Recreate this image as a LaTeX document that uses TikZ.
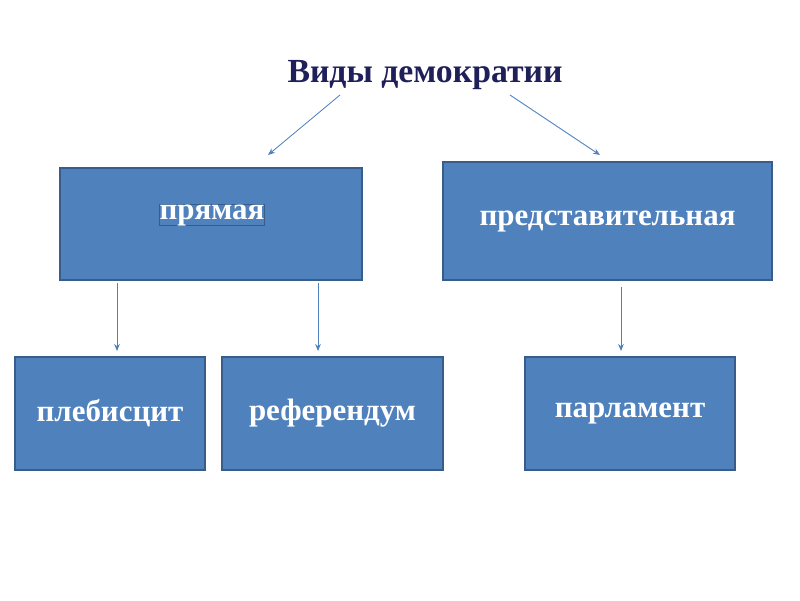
\documentclass[tikz,border=0pt]{standalone}
\usepackage{fontspec}
\setmainfont{Liberation Serif}
\usetikzlibrary{positioning, arrows.meta}
\definecolor{boxfill}{HTML}{4F81BD}
\definecolor{boxline}{HTML}{385D8A}
\definecolor{titlecol}{HTML}{1F1F5A}
\tikzset{
  kind/.style={draw=boxline, line width=1.2pt, fill=boxfill, text=white,
    font=\fontsize{22}{24}\selectfont\bfseries, inner sep=0pt},
  link/.style={draw=boxfill, line width=0.6pt, -{Stealth[length=5pt,width=4pt]}}
}
\begin{document}
\begin{tikzpicture}[x=0.025cm,y=-0.025cm]
\useasboundingbox (0,0) rectangle (800,600);
% title
\node[font=\fontsize{24}{26}\selectfont\bfseries, text=titlecol] (T) at (425,75) {Виды демократии};
% upper level
\node[kind, minimum width=302*0.025cm, minimum height=112*0.025cm] (P) at (211,224) {};
\node[kind, text=white] (Ptxt) at (212,215) {прямая};
\node[kind, minimum width=329*0.025cm, minimum height=118*0.025cm] (R) at (607.5,221) {представительная};
% lower level
\node[kind, minimum width=190*0.025cm, minimum height=113*0.025cm] (PL) at (110,413.5) {плебисцит};
\node[kind, minimum width=221*0.025cm, minimum height=113*0.025cm] (RF) at (332.5,413.5) {референдум};
\node[kind, minimum width=210*0.025cm, minimum height=113*0.025cm] (PA) at (630,413.5) {парламент};
% free ends
\coordinate (a1) at (340,95); \coordinate (a2) at (268,155);
\coordinate (b1) at (510,95); \coordinate (b2) at (600,155);
\coordinate (c1) at (117,283); \coordinate (c2) at (117,351);
\coordinate (d1) at (318,283); \coordinate (d2) at (318,351);
\coordinate (e1) at (621,287); \coordinate (e2) at (621,351);
% links
\draw[link] (a1) -- (a2);
\draw[link] (b1) -- (b2);
\draw[link] (c1) -- (c2);
\draw[link] (d1) -- (d2);
\draw[link] (e1) -- (e2);
\end{tikzpicture}
\end{document}
